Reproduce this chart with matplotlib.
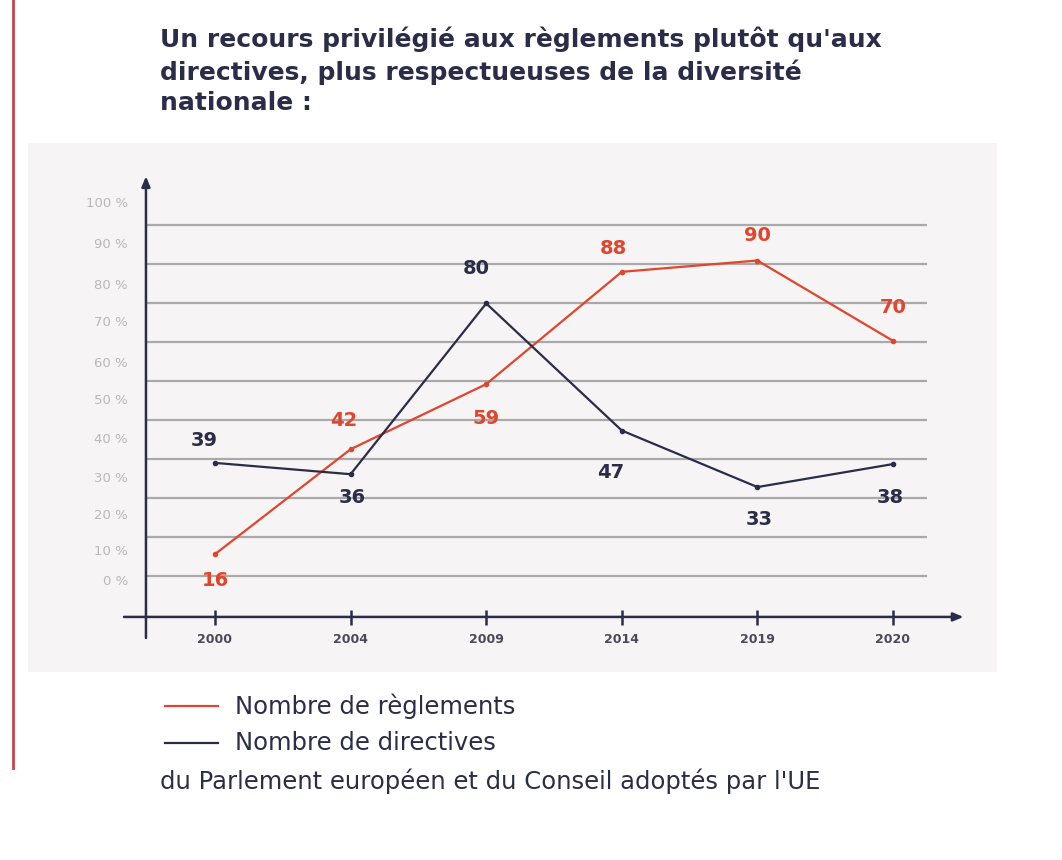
import matplotlib
matplotlib.use("Agg")
import matplotlib.pyplot as plt
from matplotlib.patches import Rectangle
from matplotlib.lines import Line2D

# --- data -----------------------------------------------------------------
years = ["2000", "2004", "2009", "2014", "2019", "2020"]

# values printed next to each point
reglements_labels = [16, 42, 59, 88, 90, 70]
directives_labels = [39, 36, 80, 47, 33, 38]

# plotted heights on the (percent) axis, as drawn in the source
reglements_pos = [5.6, 32.5, 49.2, 78.0, 80.9, 60.3]
directives_pos = [29.0, 26.1, 69.9, 37.3, 22.8, 28.7]

# percent axis: tick labels and where they sit, gridlines
ytick_labels = ["0 %", "10 %", "20 %", "30 %", "40 %", "50 %",
                "60 %", "70 %", "80 %", "90 %", "100 %"]
ytick_pos = [-1.5, 6.4, 15.4, 25.1, 35.0, 44.9, 54.6, 65.0, 74.6, 84.9, 95.4]
grid_levels = [0, 10, 20, 30, 40, 50, 60, 70, 80, 90]

# label offsets (points) for the value annotations
reg_offsets = [(0, -19), (-5, 21), (0, -25), (-6, 17), (0, 18), (0, 24)]
dir_offsets = [(-8, 16), (1, -17), (-7, 25), (-8, -30), (1, -23), (-2, -24)]

RED = "#e0452d"
NAVY = "#2b2d48"
GRID = "#a9a9a9"
PANEL = "#f6f4f5"
FONT = "DejaVu Sans"

fig = plt.figure(figsize=(10.62, 8.6), dpi=100)
fig.patch.set_facecolor("white")
W, H = 1062, 860


def fx(px):
    return px / W


def fy(py):
    return 1 - py / H


# red accent bar at the left and grey panel behind the chart
fig.add_artist(Line2D([fx(13), fx(13)], [fy(0), fy(768)], color="#c9424a", lw=2))
fig.add_artist(Rectangle((fx(28), fy(672)), fx(997) - fx(28), fy(143) - fy(672),
                         facecolor=PANEL, edgecolor="none", zorder=0))

# title
fig.text(fx(160), fy(27), "Un recours privilégié aux règlements plutôt qu'aux\n"
         "directives, plus respectueuses de la diversité\nnationale :",
         fontsize=18, fontweight="bold", family=FONT, color=NAVY,
         va="top", ha="left", linespacing=1.32)

# chart axes
ax = fig.add_axes([fx(124), fy(645), fx(965) - fx(124), fy(172) - fy(645)])
ax.set_facecolor("none")
x = list(range(len(years)))
ax.set_xlim(-0.671, 5.531)
ax.set_ylim(-17.7, 103.6)
for s in ax.spines.values():
    s.set_visible(False)
ax.set_xticks([])
ax.set_yticks([])

ax.hlines(grid_levels, -0.509, 5.25, color=GRID, lw=1.6, zorder=1)

# axes with arrows
ax.annotate("", xy=(-0.509, 102.5), xytext=(-0.509, -15.9),
            arrowprops=dict(arrowstyle="-|>,head_length=0.6,head_width=0.25",
                            color=NAVY, lw=1.8, shrinkA=0, shrinkB=0))
ax.annotate("", xy=(5.52, -10.5), xytext=(-0.671, -10.5),
            arrowprops=dict(arrowstyle="-|>,head_length=0.6,head_width=0.25",
                            color=NAVY, lw=1.8, shrinkA=0, shrinkB=0))
ax.vlines(x, -12.6, -8.6, color=NAVY, lw=1.8)

for xi, yr in zip(x, years):
    ax.text(xi, -16.2, yr, ha="center", va="center", fontsize=9,
            fontweight="bold", color="#4a4a55", family=FONT)
for yp, lab in zip(ytick_pos, ytick_labels):
    ax.text(-0.642, yp, lab, ha="right", va="center", fontsize=9.5,
            color="#b8b8b8", family=FONT)

ax.plot(x, reglements_pos, color=RED, lw=1.6, marker="o", ms=3, zorder=3)
ax.plot(x, directives_pos, color=NAVY, lw=1.6, marker="o", ms=3, zorder=3)

for xi, yp, lab, off in zip(x, reglements_pos, reglements_labels, reg_offsets):
    ax.annotate(str(lab), (xi, yp), xytext=off, textcoords="offset points",
                ha="center", va="center", fontsize=14, fontweight="bold",
                color=RED, family=FONT)
for xi, yp, lab, off in zip(x, directives_pos, directives_labels, dir_offsets):
    ax.annotate(str(lab), (xi, yp), xytext=off, textcoords="offset points",
                ha="center", va="center", fontsize=14, fontweight="bold",
                color=NAVY, family=FONT)

# legend and source note
fig.add_artist(Line2D([fx(165), fx(218)], [fy(706), fy(706)], color=RED, lw=1.6))
fig.add_artist(Line2D([fx(165), fx(218)], [fy(743), fy(743)], color=NAVY, lw=1.6))
fig.text(fx(235), fy(706), "Nombre de règlements", fontsize=17.5, color=NAVY,
         va="center", ha="left", family=FONT)
fig.text(fx(235), fy(743), "Nombre de directives", fontsize=17.5, color=NAVY,
         va="center", ha="left", family=FONT)
fig.text(fx(160), fy(781), "du Parlement européen et du Conseil adoptés par l'UE",
         fontsize=17.5, color=NAVY, va="center", ha="left", family=FONT)

fig.savefig("out.png", dpi=100, facecolor="white")
